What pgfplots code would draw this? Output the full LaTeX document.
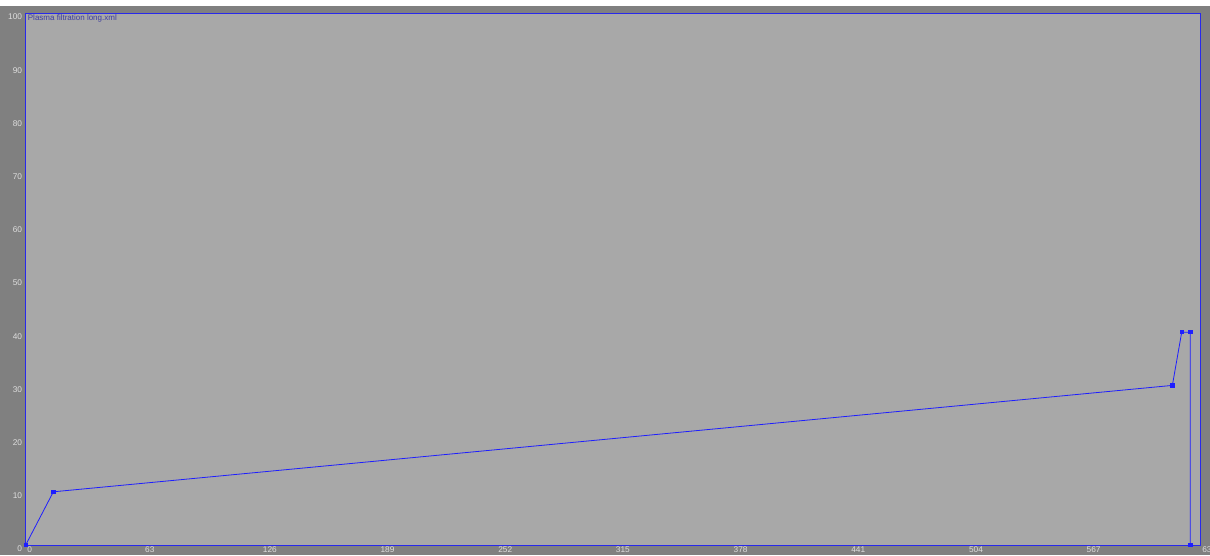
\documentclass[border=0pt]{standalone}
\usepackage{pgfplots}
\pgfplotsset{compat=1.18}
\usepackage{fontspec}
\setmainfont{Liberation Sans}
\definecolor{outergray}{RGB}{128,128,128}
\definecolor{plotbg}{RGB}{168,168,168}
\definecolor{lab}{RGB}{222,222,222}
\definecolor{border}{RGB}{40,40,235}
\definecolor{serieblue}{RGB}{30,30,255}
\definecolor{titlecol}{RGB}{60,60,160}
\begin{document}
\begin{tikzpicture}[x=1pt,y=1pt]
\fill[white] (0,0) rectangle (1210,555);
\fill[outergray] (0,0) rectangle (1210,549);
\useasboundingbox (0,0) rectangle (1210,555);
\begin{axis}[
  at={(25.7pt,10pt)}, anchor=south west,
  scale only axis, width=1174.3pt, height=532pt,
  xmin=0, xmax=628.6, ymin=0, ymax=100,
  axis background/.style={fill=plotbg},
  axis line style={draw=border, line width=0.9pt},
  xtick={0,63,...,567}, ytick={0,10,...,100},
  major tick length=0pt,
  tick label style={color=lab, font=\fontsize{8.3}{9}\selectfont},
  xticklabel style={anchor=north west, inner sep=0pt, xshift=1.6pt, yshift=-2pt},
  yticklabel style={anchor=north east, inner sep=0pt, xshift=-3.5pt, yshift=-1pt},
  /pgf/number format/assume math mode=true,
  clip=false,
]
\addplot[color=serieblue, line width=0.8pt, mark=square*, mark size=1.6pt,
  mark options={fill=serieblue, draw=serieblue}]
  coordinates {(0,0) (14.8,10) (613.8,30) (618.8,40) (623.4,40) (623.4,0)};
\node[anchor=north west, inner sep=0pt, xshift=-0.5pt, yshift=-2pt, color=lab,
  font=\fontsize{8.3}{9}\selectfont] at (axis cs:630,0) {630};
\node[anchor=north west, inner sep=0pt, xshift=2pt, yshift=-1.2pt, color=titlecol,
  font=\fontsize{8}{9}\selectfont] at (rel axis cs:0,1) {Plasma filtration long.xml};
\end{axis}
\end{tikzpicture}
\end{document}
